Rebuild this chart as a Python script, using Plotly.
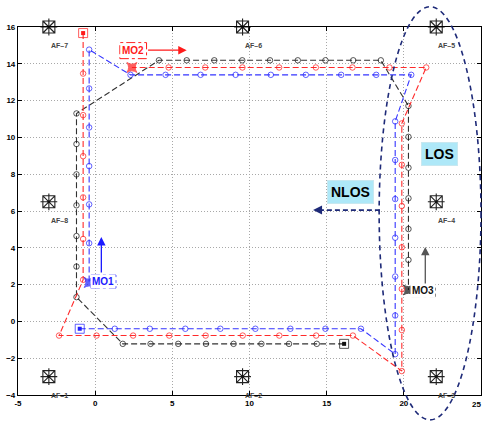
import plotly.graph_objects as go

# ---------------- data ----------------
black_x = [16.13, 14.36, 12.56, 10.77, 8.97, 7.18, 5.38, 3.59, 1.79,
           -1.21, -1.21, -1.21, -1.21, -1.21, -1.21, -1.21,
           4.13, 5.93, 7.72, 9.53, 11.33, 13.13, 14.92, 16.72, 18.51,
           20.30, 20.30, 20.30, 20.30, 20.30, 20.30, 20.30]
black_y = [-1.22, -1.22, -1.22, -1.22, -1.22, -1.22, -1.22, -1.22, -1.22,
           1.32, 2.98, 4.64, 6.31, 7.99, 9.64, 11.30,
           14.19, 14.19, 14.19, 14.19, 14.19, 14.19, 14.19, 14.19, 14.19,
           11.71, 10.03, 8.35, 6.69, 5.02, 3.34, 1.71]

red_x = [-0.78, -0.78, -0.78, -0.78, -0.78, -0.78, -0.78,
         -2.34, 0.09, 2.46, 4.80, 7.16, 9.56, 11.93, 14.32, 16.70,
         19.87, 19.87, 19.87, 19.87, 19.87, 19.87, 19.87,
         21.45, 19.07, 16.67, 14.30, 11.92, 9.54, 7.13, 4.76, 2.38]
red_y = [15.67, 13.47, 11.21, 8.98, 6.74, 4.48, 2.26,
         -0.77, -0.77, -0.77, -0.77, -0.77, -0.77, -0.77, -0.77, -0.77,
         -2.70, -0.47, 1.76, 4.03, 6.27, 8.51, 10.76,
         13.80, 13.80, 13.80, 13.80, 13.80, 13.80, 13.80, 13.80, 13.80]

blue_x = [-1.00, 1.27, 3.54, 5.84, 8.11, 10.38, 12.65, 14.92, 17.22,
          19.44, 19.44, 19.44, 19.44, 19.44, 19.44, 19.44,
          20.48, 18.21, 15.94, 13.65, 11.38, 9.10, 6.83, 4.56, 2.29,
          -0.39, -0.39, -0.39, -0.39, -0.39, -0.39, -0.39]
blue_y = [-0.40, -0.40, -0.40, -0.40, -0.40, -0.40, -0.40, -0.40, -0.40,
          -1.78, 0.32, 2.44, 4.55, 6.65, 8.77, 10.87,
          13.40, 13.40, 13.40, 13.40, 13.40, 13.40, 13.40, 13.40, 13.40,
          14.77, 12.66, 10.54, 8.44, 6.36, 4.25, 2.11]

af_x = [-3.0, 9.55, 22.1, 22.1, 22.1, 9.55, -3.0, -3.0]
af_y = [-3.0, -3.0, -3.0, 6.5, 16.0, 16.0, 16.0, 6.5]
af_labels = ["AF–1", "AF–2", "AF–3", "AF–4", "AF–5", "AF–6", "AF–7", "AF–8"]

x_ticks = [-5, 0, 5, 10, 15, 20, 25]
x_tick_labels = ["-5", "0", "5", "10", "15", "20", "25"]
y_ticks = [-4, -2, 0, 2, 4, 6, 8, 10, 12, 14, 16]
x_range = [-5, 25]
y_range = [-4, 16]

# ellipse (LOS region) in data units
ell_cx, ell_cy, ell_rx, ell_ry = 21.7, 5.875, 3.3, 11.225

fig = go.Figure()

def series(xs, ys, color, linecolor):
    n = len(xs)
    symbols = ["circle-open"] * (n - 1) + ["star-square"]
    sizes = [5.5] * (n - 1) + [9]
    symbols[0] = "square-open"
    sizes[0] = 9
    fig.add_trace(go.Scatter(
        x=xs, y=ys, mode="lines+markers",
        line=dict(color=linecolor, width=1.1, dash="6px,3px"),
        marker=dict(symbol=symbols, size=sizes, color=color,
                    line=dict(color=color, width=1)),
        showlegend=False, hoverinfo="skip"))
    # filled centre of the start marker
    fig.add_trace(go.Scatter(
        x=xs[:1], y=ys[:1], mode="markers",
        marker=dict(symbol="square", size=4, color=color),
        showlegend=False, hoverinfo="skip"))

series(black_x, black_y, "#111111", "#333333")
series(red_x, red_y, "#ff1a1a", "#ff2a2a")
series(blue_x, blue_y, "#2020ff", "#3535ff")

# AF anchors (boxed asterisk)
for sym in ["square-x-open", "cross-thin-open"]:
    fig.add_trace(go.Scatter(
        x=af_x, y=af_y, mode="markers", cliponaxis=False,
        marker=dict(symbol=sym, size=12, color="#222222",
                    line=dict(color="#222222", width=1.1)),
        showlegend=False, hoverinfo="skip"))
fig.add_trace(go.Scatter(
    x=af_x, y=af_y, mode="markers", cliponaxis=False,
    marker=dict(symbol="circle", size=3, color="#111111"),
    showlegend=False, hoverinfo="skip"))

tick_font = dict(family="Liberation Sans, Arial", size=8,
                 color="black", weight="bold")

annotations = []
for xv, yv, lab in zip(af_x, af_y, af_labels):
    annotations.append(dict(x=xv, y=yv - 1.0, text=lab, showarrow=False,
                            xanchor="left", yanchor="middle",
                            font=dict(family="Liberation Sans, Arial", size=7,
                                      color="#444444", weight="bold")))

# last x tick label kept inside the picture
annotations.append(dict(x=x_ticks[-1], y=y_range[0], text=x_tick_labels[-1],
                        showarrow=False, xanchor="right", yanchor="top",
                        xshift=2, yshift=-3, font=tick_font))

# MO labels
mo = [
    ("MO2", 2.44, 14.74, "#ff1a1a", (1.60, 3.33, 14.28, 15.15), (3.33, 14.74, 5.93, 14.74)),
    ("MO1", 0.53, 2.15, "#1a1aff", (-0.28, 1.34, 1.81, 2.52), (0.40, 2.58, 0.40, 4.59)),
    ("MO3", 21.27, 1.66, "#111111", (20.49, 22.05, 1.35, 1.98), (21.39, 1.98, 21.39, 4.05)),
]
shapes = []
for text, tx, ty, col, box, arr in mo:
    annotations.append(dict(x=tx, y=ty, text=text, showarrow=False,
                            font=dict(family="Liberation Sans, Arial", size=10,
                                      color=col, weight="bold"),
                            bgcolor="white"))
    shapes.append(dict(type="rect", xref="x", yref="y",
                       x0=box[0], x1=box[1], y0=box[2], y1=box[3],
                       line=dict(color=col, width=1, dash="dashdot")))
    acol = "#555555" if text == "MO3" else col
    annotations.append(dict(x=arr[2], y=arr[3], ax=arr[0], ay=arr[1],
                            axref="x", ayref="y", xref="x", yref="y",
                            text="", showarrow=True, arrowhead=2,
                            arrowsize=1.3, arrowwidth=1.3, arrowcolor=acol))

# NLOS / LOS
for text, tx, ty in [("NLOS", 16.52, 7.03), ("LOS", 22.28, 9.09)]:
    annotations.append(dict(x=tx, y=ty, text=text, showarrow=False,
                            font=dict(family="Liberation Sans, Arial", size=14,
                                      color="black", weight="bold"),
                            bgcolor="#aee8f8", bordercolor="#c8e8f0",
                            borderwidth=1, borderpad=3))

navy = "#1e2a78"
shapes.append(dict(type="line", xref="x", yref="y",
                   x0=18.45, y0=6.05, x1=14.45, y1=6.05,
                   line=dict(color=navy, width=1.6, dash="5px,3px")))
annotations.append(dict(x=14.12, y=6.05, ax=14.7, ay=6.05,
                        axref="x", ayref="y", xref="x", yref="y",
                        text="", showarrow=True, arrowhead=2,
                        arrowsize=1.2, arrowwidth=1.5, arrowcolor=navy))

def px(v):
    return (v - x_range[0]) / (x_range[1] - x_range[0])

def py(v):
    return (v - y_range[0]) / (y_range[1] - y_range[0])

shapes.append(dict(type="circle", xref="paper", yref="paper",
                   x0=px(ell_cx - ell_rx), x1=px(ell_cx + ell_rx),
                   y0=py(ell_cy - ell_ry), y1=py(ell_cy + ell_ry),
                   line=dict(color=navy, width=1.6, dash="5px,4px")))

axis_common = dict(showline=True, linecolor="black", linewidth=1.2,
                   mirror="ticks", ticks="inside", ticklen=4,
                   tickcolor="black", showgrid=True, gridcolor="#a8a8a8",
                   griddash="1px,2px", gridwidth=1, zeroline=False,
                   automargin=False, tickfont=tick_font)

fig.update_xaxes(range=x_range, tickvals=x_ticks,
                 ticktext=x_tick_labels[:-1] + [""], **axis_common)
fig.update_yaxes(range=y_range, tickvals=y_ticks, **axis_common)

fig.update_layout(width=483, height=424,
                  margin=dict(l=18, r=2, t=27, b=29, autoexpand=False),
                  paper_bgcolor="white", plot_bgcolor="white",
                  annotations=annotations, shapes=shapes,
                  showlegend=False)

fig.write_html("out.html",
               config={"displayModeBar": False},
               post_script="document.body.style.margin='0';"
                           "document.body.style.overflow='hidden';")
